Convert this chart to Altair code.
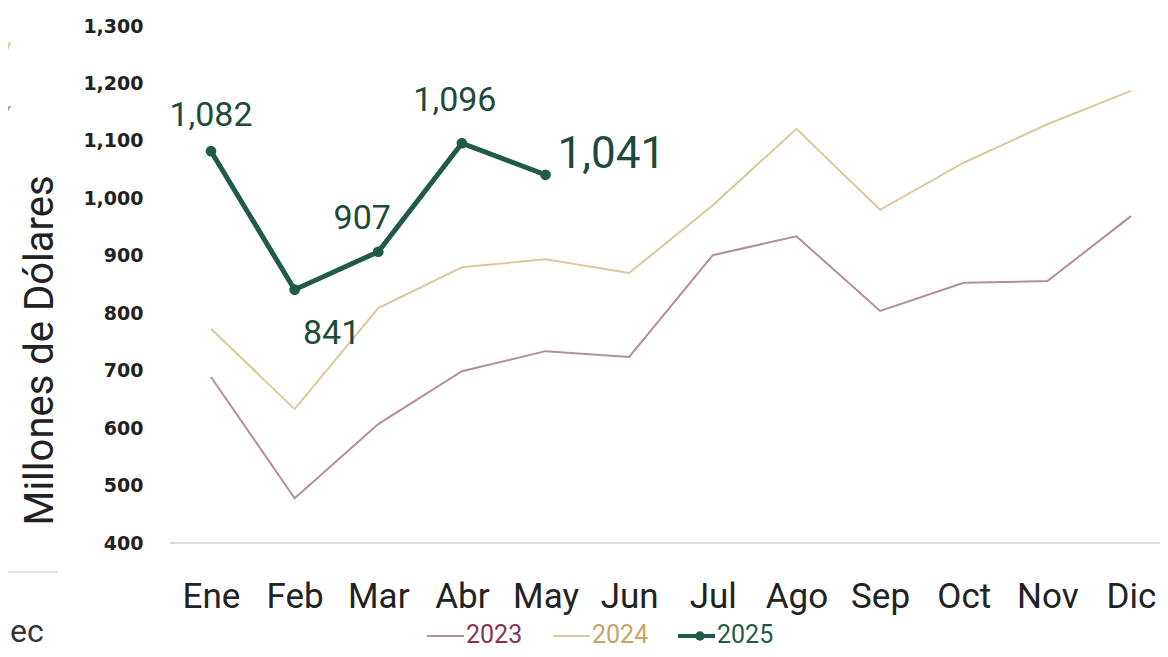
import altair as alt
import pandas as pd

months = ["Ene", "Feb", "Mar", "Abr", "May", "Jun", "Jul", "Ago", "Sep", "Oct", "Nov", "Dic"]
v2023 = [689, 478, 607, 699, 734, 724, 901, 934, 804, 853, 856, 969]
v2024 = [773, 633, 809, 880, 894, 870, 988, 1121, 980, 1062, 1129, 1187]
v2025 = [1082, 841, 907, 1096, 1041]
years = ["2023", "2024", "2025"]
line_colors = ["#b68c9f", "#ddc89e", "#1f5a4a"]
legend_text_colors = ["#8a3357", "#c7a468", "#23594a"]
y_ticks = [400, 500, 600, 700, 800, 900, 1000, 1100, 1200, 1300]

rows = []
for yr, vals in zip(years, [v2023, v2024, v2025]):
    for m, v in zip(months, vals):
        rows.append({"mes": m, "anio": yr, "valor": v})
df = pd.DataFrame(rows)

FONT = "Roboto"
W, H = 990, 517

xenc = alt.X(
    "mes:N",
    sort=months,
    scale=alt.Scale(type="point", domain=months, range=[41, 961], padding=0),
    axis=alt.Axis(
        title=None, domain=False, ticks=False, grid=False,
        labelFont=FONT, labelFontSize=35, labelColor="#222222",
        labelPadding=36, labelAngle=0,
    ),
)
yenc = alt.Y(
    "valor:Q",
    scale=alt.Scale(domain=[400, 1300], nice=False, zero=False),
    axis=alt.Axis(
        values=y_ticks, format=",.0f", domain=False, ticks=False, grid=False,
        labelFont="DejaVu Sans", labelFontWeight="bold", labelFontSize=19,
        labelColor="#222222", labelPadding=27,
        title="Millones de Dólares", titleFont=FONT, titleFontSize=40,
        titleFontWeight="normal", titleColor="#222222", titleAngle=270,
        titleX=-130, titleY=324, titleAlign="center", titleBaseline="middle",
    ),
)
color = alt.Color("anio:N", scale=alt.Scale(domain=years, range=line_colors), legend=None)

base = alt.Chart(df)

thin = base.transform_filter(alt.FieldOneOfPredicate(field="anio", oneOf=["2023", "2024"])).mark_line(
    strokeWidth=2
).encode(x=xenc, y=yenc, color=color, detail="anio:N")

d25 = base.transform_filter(alt.FieldEqualPredicate(field="anio", equal="2025"))
line25 = d25.mark_line(strokeWidth=5, color=line_colors[2]).encode(x=xenc, y=yenc)
pts25 = d25.mark_circle(size=115, opacity=1, color=line_colors[2]).encode(x=xenc, y=yenc)

# label styles per month: (month, dx, dy, size, align)
label_styles = [
    ("Ene", 0, -35, 34, "center"),
    ("Feb", 37, 44, 34, "center"),
    ("Mar", -16, -33, 34, "center"),
    ("Abr", -7, -42, 34, "center"),
    ("May", 12, -20, 44, "left"),
]
labels = []
for m, dx, dy, sz, al in label_styles:
    labels.append(
        d25.transform_filter(alt.FieldEqualPredicate(field="mes", equal=m))
        .mark_text(dx=dx, dy=dy, fontSize=sz, font=FONT, align=al, baseline="middle", color="#1d4a3c")
        .encode(x=xenc, y=yenc, text=alt.Text("valor:Q", format=","))
    )

dummy = alt.Chart(pd.DataFrame({"a": [0]}))
domain_rule = dummy.mark_rule(color="#dcdcdc", strokeWidth=2).encode(
    x=alt.value(0), x2=alt.value(W), y=alt.value(H)
)

# manual legend
leg = []
leg_line_x = [257, 383, 508]
LEG_Y = 609
for i, yr in enumerate(years):
    lx = leg_line_x[i]
    sw = 2 if i < 2 else 4
    leg.append(dummy.mark_rule(color=line_colors[i], strokeWidth=sw).encode(
        x=alt.value(lx), x2=alt.value(lx + 37), y=alt.value(LEG_Y + 1)))
    leg.append(dummy.mark_text(align="left", baseline="middle", fontSize=25, font=FONT,
                               color=legend_text_colors[i], text=yr).encode(
        x=alt.value(lx + 39), y=alt.value(LEG_Y)))
leg.append(dummy.mark_circle(size=90, opacity=1, color=line_colors[2]).encode(
    x=alt.value(530), y=alt.value(LEG_Y + 1)))

# fragments of a neighbouring chart cropped at the left edge
frag = [
    dummy.mark_rule(color="#e2e2e2", strokeWidth=2).encode(x=alt.value(-170), x2=alt.value(-112), y=alt.value(546)),
    dummy.mark_text(align="left", baseline="middle", fontSize=32, font=FONT, color="#333333", text="ec").encode(
        x=alt.value(-160), y=alt.value(606)),
    dummy.mark_rule(color=line_colors[1], strokeWidth=2).encode(
        x=alt.value(-172), y=alt.value(50), x2=alt.value(-160), y2=alt.value(16)),
    dummy.mark_rule(color=line_colors[0], strokeWidth=2).encode(
        x=alt.value(-172), y=alt.value(100), x2=alt.value(-160), y2=alt.value(80)),
]

chart = alt.layer(domain_rule, thin, line25, pts25, *labels, *leg, *frag).properties(
    width=W, height=H,
    padding={"left": 162, "top": 18, "right": 0, "bottom": 106},
    autosize="none",
    background="white",
).configure_view(stroke="transparent", strokeWidth=0)

chart.save("out.html", embed_options={"renderer": "svg", "actions": False})
